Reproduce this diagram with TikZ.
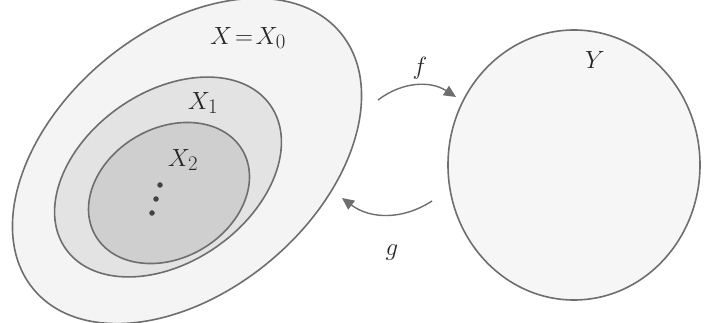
\documentclass[tikz,border=0pt]{standalone}
\usetikzlibrary{arrows.meta}
\definecolor{pencil}{HTML}{6E6E6E}
\tikzset{
  setline/.style={draw=pencil, line width=1.6pt},
  lbl/.style={text=pencil!35!black, font=\fontsize{28}{28}\selectfont},
  maparrow/.style={draw=pencil, line width=1.4pt, -{Triangle[length=12pt,width=11pt]}},
  dotmark/.style={circle, fill=pencil!60!black, inner sep=0pt, minimum size=5.5pt},
}
\begin{document}
\begin{tikzpicture}[x=1pt,y=1pt]
\useasboundingbox (0,0) rectangle (712,323);
\fill[white] (0,0) rectangle (712,323);
% outer set X = X_0
\path[setline, fill=gray!9] (187,162) ellipse [x radius=200, y radius=130, rotate=40];
% X_1
\path[setline, fill=gray!22] (168,146) ellipse [x radius=125, y radius=85, rotate=35];
% X_2
\path[setline, fill=gray!38] (169,130) ellipse [x radius=85, y radius=65, rotate=30];
% Y
\path[setline, fill=gray!7] (574,158) ellipse [x radius=126, y radius=135];
% labels
\node[lbl] (lX0) at (248,285) {$X\!=\!X_0$};
\node[lbl] (lX1) at (203,220) {$X_1$};
\node[lbl] (lX2) at (183,163) {$X_2$};
\node[dotmark] (d1) at (160,138) {};
\node[dotmark] (d2) at (156,124) {};
\node[dotmark] (d3) at (152,110) {};
\node[lbl] (lY) at (595,263) {$Y$};
% arrows
\coordinate (fs) at (378,223);
\coordinate (fe) at (456,226);
\coordinate (gs) at (432,122);
\coordinate (ge) at (342,125);
\draw[maparrow] (fs) to[bend left=35] (fe);
\draw[maparrow] (gs) to[bend left=35] (ge);
\node[lbl] (lf) at (420,255) {$f$};
\node[lbl] (lg) at (392,70) {$g$};
\end{tikzpicture}
\end{document}
